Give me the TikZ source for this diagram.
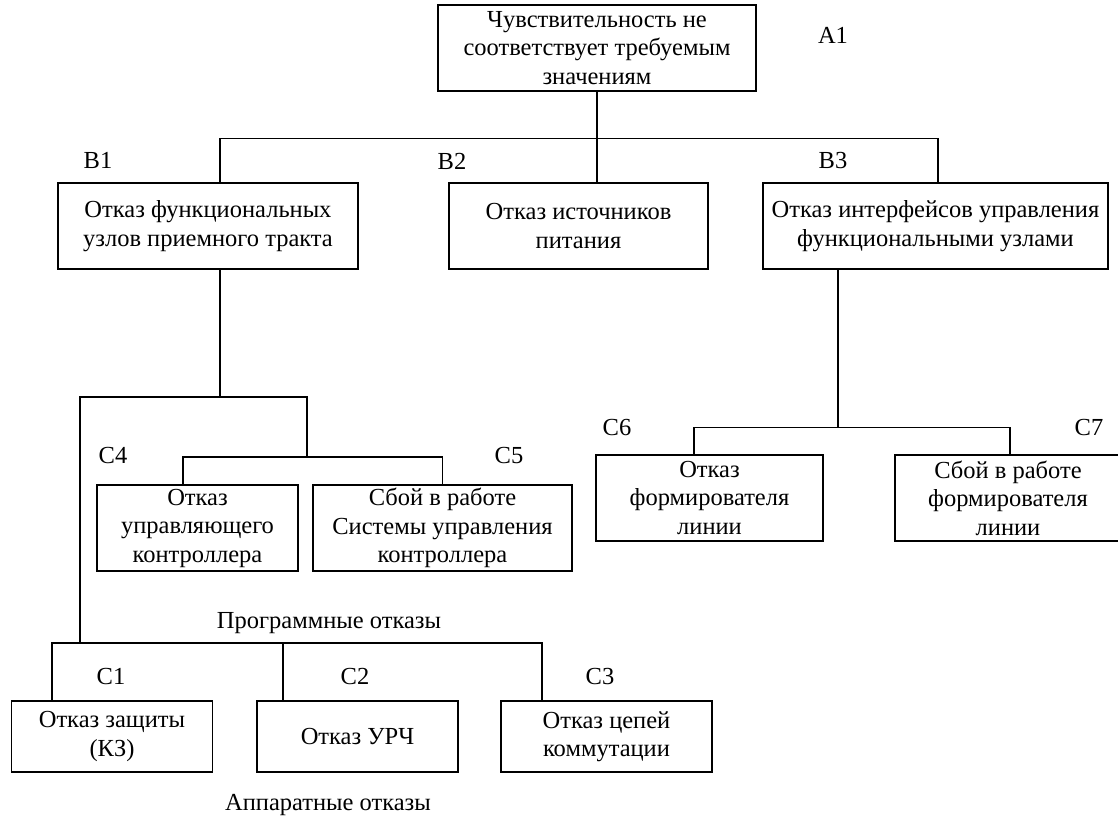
\documentclass[tikz,border=0pt]{standalone}
\usepackage{fontspec}
\setmainfont{Liberation Serif}
\newcommand{\fs}{\fontsize{24.5pt}{28.5pt}\selectfont}
\begin{document}
\begin{tikzpicture}[x=1pt,y=-1pt,
  box/.style={draw, line width=1.2pt, inner sep=0pt, align=center, font=\fs},
  lbl/.style={inner sep=0pt, font=\fs},
  wire/.style={line width=1.2pt}]
\useasboundingbox (0,0) rectangle (1118,816);
% boxes
\node[box, minimum width=318pt, minimum height=86pt] (A1) at (597,48) {Чувствительность не\\соответствует требуемым\\значениям};
\node[box, minimum width=300pt, minimum height=86pt] (B1) at (208,226) {Отказ функциональных\\узлов приемного тракта};
\node[box, minimum width=259pt, minimum height=86pt] (B2) at (578.5,226) {Отказ источников\\питания};
\node[box, minimum width=345pt, minimum height=86pt] (B3) at (935.5,226) {Отказ интерфейсов управления\\функциональными узлами};
\node[box, minimum width=201pt, minimum height=86pt] (C4) at (197.5,528) {Отказ\\управляющего\\контроллера};
\node[box, minimum width=259pt, minimum height=86pt] (C5) at (442.5,528) {Сбой в работе\\Системы управления\\контроллера};
\node[box, minimum width=227pt, minimum height=86pt] (C6) at (709.5,498) {Отказ\\формирователя\\линии};
\node[box, minimum width=226pt, minimum height=86pt] (C7) at (1008,498) {Сбой в работе\\формирователя\\линии};
\node[box, minimum width=201pt, minimum height=71pt] (C1) at (112,736.5) {Отказ защиты\\(КЗ)};
\node[box, minimum width=201pt, minimum height=71pt] (C2) at (357.5,736.5) {Отказ УРЧ};
\node[box, minimum width=211pt, minimum height=71pt] (C3) at (606.5,736.5) {Отказ цепей\\коммутации};
% labels
\node[lbl] (lA1) at (833,35) {A1};
\node[lbl] (lB1) at (98,160) {B1};
\node[lbl] (lB2) at (452,161) {B2};
\node[lbl] (lB3) at (833,161) {B3};
\node[lbl] (lC4) at (113,456) {C4};
\node[lbl] (lC5) at (509,456) {C5};
\node[lbl] (lC6) at (617,428) {C6};
\node[lbl] (lC7) at (1089,428) {C7};
\node[lbl] (lC1) at (111,676) {C1};
\node[lbl] (lC2) at (355,676) {C2};
\node[lbl] (lC3) at (600,676) {C3};
\node[lbl, anchor=base] (prog) at (329,628) {Программные отказы};
\node[lbl, anchor=base] (app) at (328,810) {Аппаратные отказы};
% junctions
\coordinate (jB) at (220,397);
\coordinate (jL) at (80,397);
\coordinate (jR) at (307,397);
\coordinate (jC45) at (307,457);
\coordinate (jC13) at (80,643);
% connectors
\draw[wire] (A1.south) -- (A1.south |- B2.north);
\draw[wire] ([xshift=12pt]B1.north) -- ++(0,-44) -| ([xshift=2.5pt]B3.north);
\draw[wire] ([xshift=12pt]B1.south) -- (jB);
\draw[wire] (jC13) -- (jL) -- (jR) -- (jC45);
\draw[wire] ([xshift=-14.5pt]C4.north) |- (jC45) -| (C5.north);
\draw[wire] ([xshift=-60pt]C1.north) |- (jC13) -| ([xshift=-74.5pt]C2.north);
\draw[wire] (jC13) -| ([xshift=-64.5pt]C3.north);
\draw[wire] ([xshift=-97.5pt]B3.south) -- ++(0,158) coordinate (jB3);
\draw[wire] ([xshift=-15.5pt]C6.north) |- (jB3) -| ([xshift=2pt]C7.north);
\end{tikzpicture}
\end{document}
